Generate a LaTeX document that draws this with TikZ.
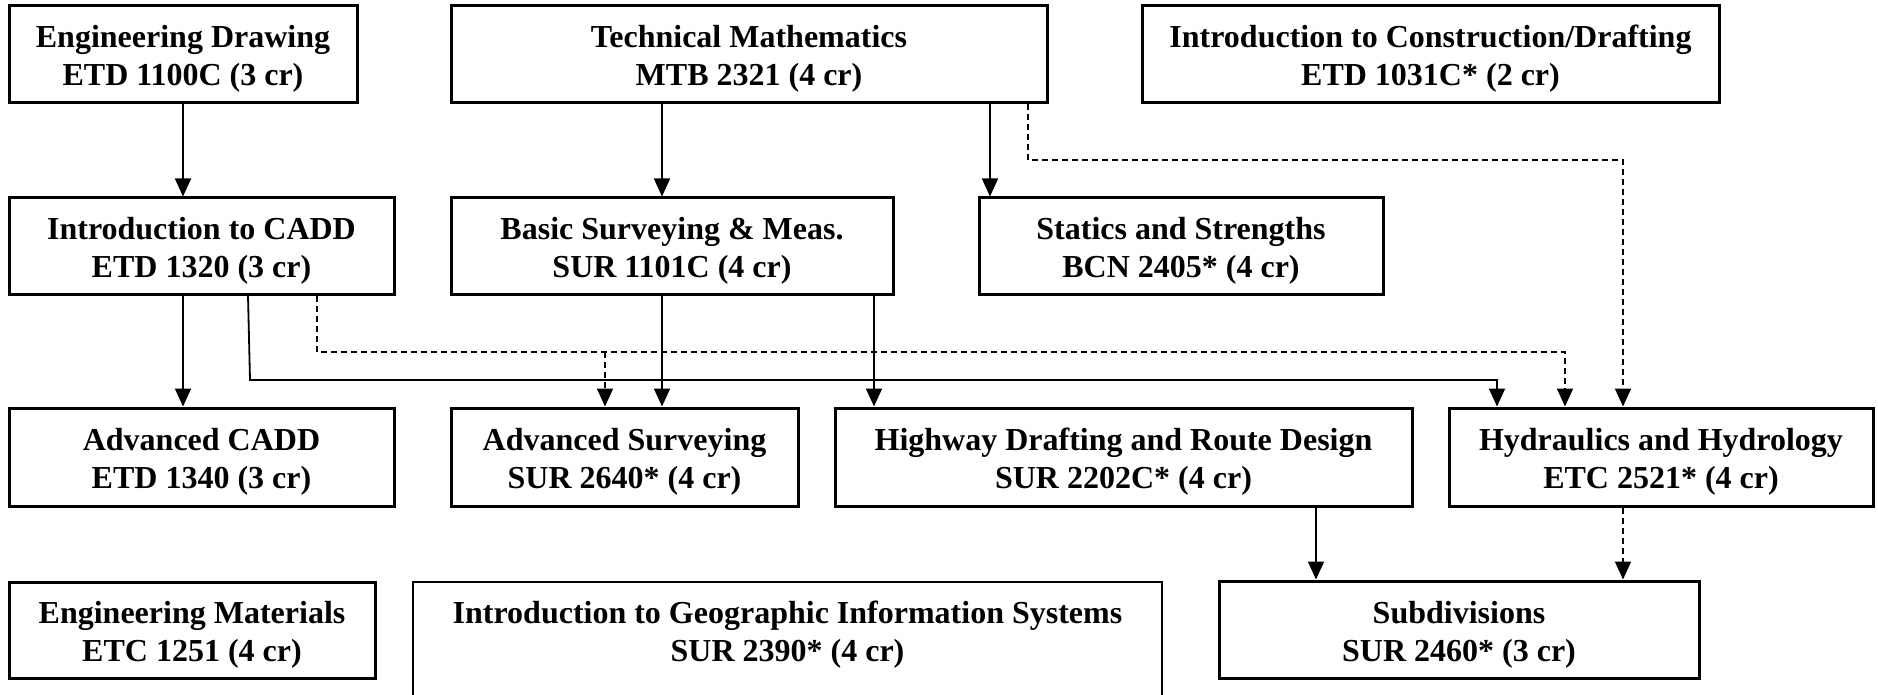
\documentclass[tikz,border=0pt]{standalone}
\usepackage{fontspec}
\setmainfont{Liberation Serif}
\usetikzlibrary{arrows.meta}
\newcommand\topst{\rule{0pt}{16pt}}
\begin{document}
\begin{tikzpicture}[x=0.5pt,y=-0.5pt,
  box/.style={draw, line width=1.5pt, align=center, inner sep=0pt,
    font=\bfseries\fontsize{16}{19}\selectfont},
  txt/.style={align=center, inner sep=0pt, font=\bfseries\fontsize{16}{19}\selectfont},
  thinbox/.style={draw, line width=0.75pt},
  arr/.style={line width=0.9pt, -{Triangle[length=9pt,width=8pt]}},
  dsh/.style={dash pattern=on 3pt off 2pt}]
\useasboundingbox (0,0) rectangle (1878,695);
% row 1
\node[box, minimum width=174pt, minimum height=48.5pt] (ed) at (183,54) {\topst Engineering Drawing\\ETD 1100C (3 cr)};
\node[box, minimum width=298pt, minimum height=48.5pt] (tm) at (749,54) {\topst Technical Mathematics\\MTB 2321 (4 cr)};
\node[box, minimum width=288.5pt, minimum height=48.5pt] (ic) at (1430.5,54) {\topst Introduction to Construction/Drafting\\ETD 1031C* (2 cr)};
% row 2
\node[box, minimum width=192.5pt, minimum height=48pt] (cadd) at (201.5,246) {\topst Introduction to CADD\\ETD 1320 (3 cr)};
\node[box, minimum width=221pt, minimum height=48pt] (bs) at (672,246) {\topst Basic Surveying \& Meas.\\SUR 1101C (4 cr)};
\node[box, minimum width=202pt, minimum height=48pt] (st) at (1181,246) {\topst Statics and Strengths\\BCN 2405* (4 cr)};
% row 3
\node[box, minimum width=192.5pt, minimum height=49pt] (acadd) at (201.5,457) {\topst Advanced CADD\\ETD 1340 (3 cr)};
\node[box, minimum width=173.5pt, minimum height=49pt] (as) at (624.5,457) {\topst Advanced Surveying\\SUR 2640* (4 cr)};
\node[box, minimum width=288.5pt, minimum height=49pt] (hw) at (1123.5,457) {\topst Highway Drafting and Route Design\\SUR 2202C* (4 cr)};
\node[box, minimum width=212pt, minimum height=49pt] (hh) at (1661,457) {\topst Hydraulics and Hydrology\\ETC 2521* (4 cr)};
% row 4
\node[box, minimum width=183pt, minimum height=48pt] (em) at (192,630) {\topst Engineering Materials\\ETC 1251 (4 cr)};
\node[txt] (gis) at (787.5,630) {\topst Introduction to Geographic Information Systems\\SUR 2390* (4 cr)};
\draw[thinbox] (413,720) -- (413,582) -- (1162,582) -- (1162,720);
\node[box, minimum width=240pt, minimum height=48.5pt] (sub) at (1459,629.5) {\topst Subdivisions\\SUR 2460* (3 cr)};
% connectors
\draw[arr] (ed.south) -- (ed.south |- cadd.north);
\draw[arr] (662,0 |- tm.south) -- (662,0 |- bs.north);
\draw[arr] (990,0 |- tm.south) -- (990,0 |- st.north);
\draw[arr,dsh] (1028,0 |- tm.south) -- (1028,160) -- (1623,160) -- (1623,0 |- hh.north);
\draw[arr] (183,0 |- cadd.south) -- (183,0 |- acadd.north);
\draw[arr] (248,0 |- cadd.south) -- (250,380) -- (1497,380) -- (1497,0 |- hh.north);
\draw[arr,dsh] (317,0 |- cadd.south) -- (317,352) -- (1565,352) -- (1565,0 |- hh.north);
\coordinate (br) at (605,352);
\draw[arr,dsh] (br) -- (br |- as.north);
\draw[arr] (662,0 |- bs.south) -- (662,0 |- as.north);
\draw[arr] (874,0 |- bs.south) -- (874,0 |- hw.north);
\draw[arr] (1316,0 |- hw.south) -- (1316,0 |- sub.north);
\draw[arr,dsh] (1623,0 |- hh.south) -- (1623,0 |- sub.north);
\end{tikzpicture}
\end{document}
